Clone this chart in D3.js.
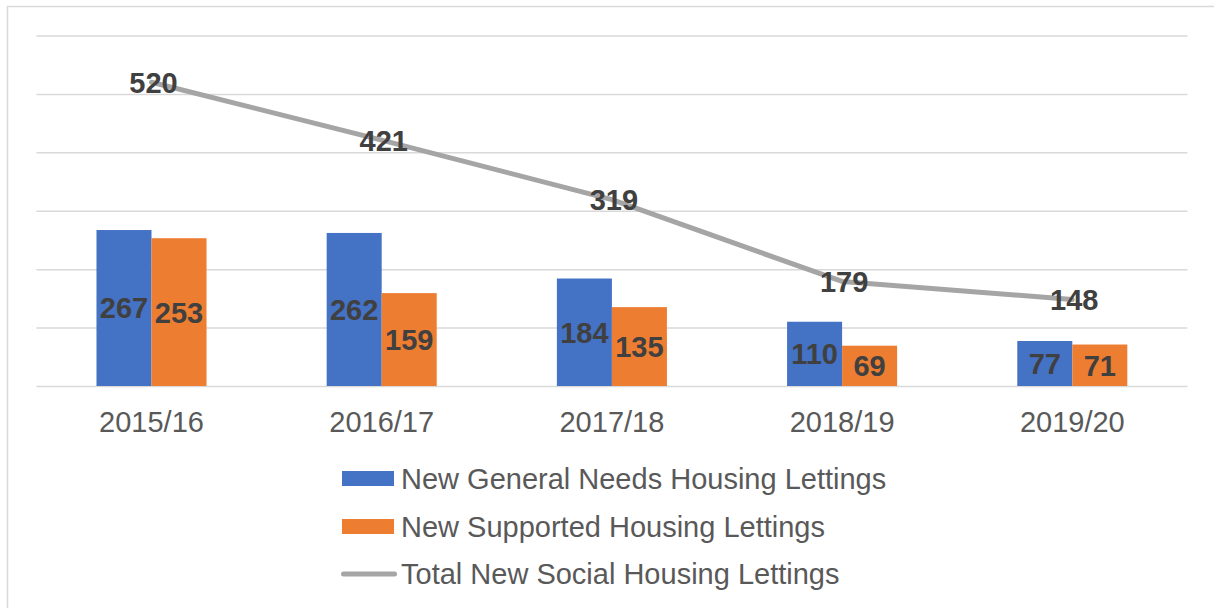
<!DOCTYPE html>
<html>
<head>
<meta charset="utf-8">
<script src="https://cdn.jsdelivr.net/npm/d3@7"></script>
<style>
  html, body { margin: 0; padding: 0; background: #ffffff; }
  svg { display: block; font-family: "Liberation Sans", Arial, sans-serif; }
</style>
</head>
<body>
<svg id="chart" width="1214" height="608"></svg>
<script>
// Lettings by year
const years = ["2015/16", "2016/17", "2017/18", "2018/19", "2019/20"];
const generalNeeds = [267, 262, 184, 110, 77];
const supported = [253, 159, 135, 69, 71];
const totalLettings = [520, 421, 319, 179, 148];
const seriesNames = [
  "New General Needs Housing Lettings",
  "New Supported Housing Lettings",
  "Total New Social Housing Lettings"
];
const gridTicks = [0, 100, 200, 300, 400, 500, 600];

const colors = { general: "#4472C4", supported: "#ED7D31", total: "#A5A5A5" };

const svg = d3.select("#chart");

// outer chart frame
svg.append("path")
  .attr("d", "M7.5,608 V6.5 H1214")
  .attr("fill", "none")
  .attr("stroke", "#D9D9D9")
  .attr("stroke-width", 1.5);

const x = d3.scaleBand()
  .domain(years)
  .range([36.4, 1187.4])
  .paddingInner(0.522)
  .paddingOuter(0.261);

const xSub = d3.scaleBand()
  .domain(["general", "supported"])
  .range([0, x.bandwidth()]);

const y = d3.scaleLinear().domain([0, 600]).range([386, 35.5]);

// horizontal gridlines
const grid = svg.append("g")
  .attr("transform", "translate(36.4,0)")
  .call(d3.axisLeft(y).tickValues(gridTicks).tickSize(-1151).tickFormat(""));
grid.select(".domain").remove();
grid.selectAll(".tick line").attr("stroke", "#D9D9D9").attr("stroke-width", 1.5);

// category labels
const xAxis = svg.append("g")
  .attr("transform", "translate(0,386)")
  .call(d3.axisBottom(x).tickSize(0).tickPadding(25));
xAxis.select(".domain").remove();
xAxis.selectAll("text")
  .attr("fill", "#595959")
  .style("font-size", "29px");

// bars
const barData = [];
years.forEach((yr, i) => {
  barData.push({ year: yr, key: "general", value: generalNeeds[i] });
  barData.push({ year: yr, key: "supported", value: supported[i] });
});

svg.append("g").selectAll("rect")
  .data(barData)
  .join("rect")
  .attr("x", d => x(d.year) + xSub(d.key))
  .attr("y", d => y(d.value))
  .attr("width", xSub.bandwidth())
  .attr("height", d => y(0) - y(d.value))
  .attr("fill", d => colors[d.key]);

svg.append("g").selectAll("text")
  .data(barData)
  .join("text")
  .attr("x", d => x(d.year) + xSub(d.key) + xSub.bandwidth() / 2)
  .attr("y", d => (y(d.value) + y(0)) / 2)
  .attr("dy", "0.36em")
  .attr("text-anchor", "middle")
  .attr("fill", "#404040")
  .style("font-size", "29px")
  .style("font-weight", "bold")
  .text(d => d.value);

// total line
const linePts = years.map((yr, i) => ({ year: yr, value: totalLettings[i] }));
const line = d3.line()
  .x(d => x(d.year) + x.bandwidth() / 2)
  .y(d => y(d.value));

svg.append("path")
  .datum(linePts)
  .attr("d", line)
  .attr("fill", "none")
  .attr("stroke", colors.total)
  .attr("stroke-width", 5)
  .attr("stroke-linejoin", "round")
  .attr("stroke-linecap", "round");

svg.append("g").selectAll("text")
  .data(linePts)
  .join("text")
  .attr("x", d => x(d.year) + x.bandwidth() / 2 + 2)
  .attr("y", d => y(d.value))
  .attr("dy", "0.36em")
  .attr("text-anchor", "middle")
  .attr("fill", "#404040")
  .style("font-size", "29px")
  .style("font-weight", "bold")
  .text(d => d.value);

// legend
const legend = svg.append("g").attr("transform", "translate(342,0)");
const rows = [
  { name: seriesNames[0], type: "bar", color: colors.general, cy: 478.5 },
  { name: seriesNames[1], type: "bar", color: colors.supported, cy: 526.5 },
  { name: seriesNames[2], type: "line", color: colors.total, cy: 574 }
];
rows.forEach(r => {
  if (r.type === "bar") {
    legend.append("rect")
      .attr("x", 0).attr("y", r.cy - 7.5)
      .attr("width", 52).attr("height", 15)
      .attr("fill", r.color);
  } else {
    legend.append("line")
      .attr("x1", 1.5).attr("x2", 52.5)
      .attr("y1", r.cy).attr("y2", r.cy)
      .attr("stroke", r.color)
      .attr("stroke-width", 5)
      .attr("stroke-linecap", "round");
  }
  legend.append("text")
    .attr("x", 59)
    .attr("y", r.cy)
    .attr("dy", "0.35em")
    .attr("fill", "#595959")
    .style("font-size", "29px")
    .text(r.name);
});
</script>
</body>
</html>
